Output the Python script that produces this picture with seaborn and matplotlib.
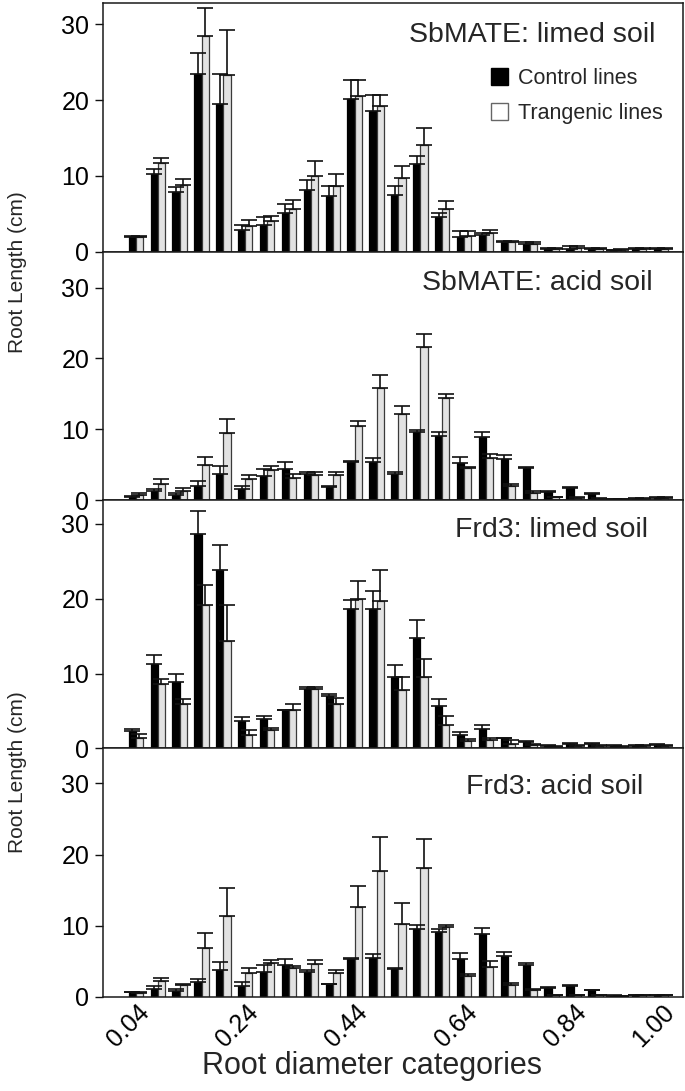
import numpy as np
import pandas as pd
import seaborn as sns
import matplotlib.pyplot as plt
import matplotlib.transforms as mtransforms
from matplotlib.patches import Patch

# Root diameter classes (mm)
diameters = ["%.2f" % (0.04 * (i + 1)) for i in range(25)]
tick_idx = [0, 5, 10, 15, 20, 24]

panel_titles = ["SbMATE: limed soil", "SbMATE: acid soil", "Frd3: limed soil", "Frd3: acid soil"]

# SbMATE, limed soil
sb_lim_ctrl = [1.9, 10.2, 7.9, 23.5, 19.5, 2.8, 3.5, 5.1, 8.1, 7.3, 20.2, 18.6, 7.5, 11.6, 4.5,
               1.9, 2.2, 1.2, 1.0, 0.35, 0.35, 0.35, 0.15, 0.3, 0.3]
sb_lim_ctrl_se = [0.1, 0.7, 0.6, 2.7, 4.0, 0.7, 1.0, 1.2, 1.3, 1.4, 2.4, 2.1, 1.15, 1.0, 0.6,
                  0.75, 0.3, 0.2, 0.2, 0.15, 0.4, 0.15, 0.1, 0.1, 0.1]
sb_lim_trans = [1.9, 11.7, 8.8, 28.4, 23.3, 3.4, 4.0, 5.6, 10.0, 8.7, 20.5, 19.2, 9.7, 14.0, 5.65,
                2.0, 2.4, 1.2, 1.0, 0.35, 0.45, 0.3, 0.2, 0.3, 0.3]
sb_lim_trans_se = [0.1, 0.7, 0.8, 3.7, 5.9, 0.8, 0.7, 1.2, 1.9, 1.5, 2.2, 1.5, 1.6, 2.3, 1.05,
                   0.65, 0.5, 0.2, 0.3, 0.15, 0.25, 0.15, 0.1, 0.1, 0.1]

# SbMATE, acid soil
sb_acid_ctrl = [0.48, 1.23, 0.69, 2.03, 3.68, 1.55, 3.42, 4.38, 3.68, 1.82, 5.34, 5.34, 3.74, 9.61, 9.08,
                5.29, 8.86, 5.77, 4.59, 1.17, 1.66, 0.85, 0.16, 0.21, 0.32]
sb_acid_ctrl_se = [0.05, 0.32, 0.27, 0.59, 1.17, 0.48, 0.96, 0.96, 0.21, 0.11, 0.11, 0.64, 0.27, 0.32, 0.48,
                   0.8, 0.8, 0.53, 0.11, 0.11, 0.11, 0.11, 0.05, 0.05, 0.05]
sb_acid_trans = [0.69, 2.24, 1.34, 4.91, 9.4, 2.99, 4.27, 3.15, 3.52, 3.52, 10.52, 15.81, 12.18, 21.68, 14.42,
                 4.49, 5.87, 1.98, 0.96, 0.37, 0.32, 0.21, 0.11, 0.21, 0.32]
sb_acid_trans_se = [0.27, 0.69, 0.32, 1.12, 2.03, 0.59, 0.53, 0.48, 0.48, 0.48, 0.69, 1.87, 1.12, 1.71, 0.53,
                    0.16, 0.59, 0.27, 0.32, 0.11, 0.11, 0.05, 0.05, 0.05, 0.05]

# Frd3, limed soil
frd_lim_ctrl = [2.35, 11.25, 8.9, 28.6, 23.8, 3.65, 3.9, 5.1, 7.95, 7.05, 18.6, 18.7, 9.5, 14.8, 5.65,
                1.8, 2.65, 1.4, 0.9, 0.35, 0.55, 0.55, 0.3, 0.3, 0.45]
frd_lim_ctrl_se = [0.2, 1.25, 1.05, 3.1, 3.4, 0.55, 0.4, 0.05, 0.2, 0.25, 1.3, 2.4, 1.7, 2.4, 0.95,
                   0.4, 0.45, 0.05, 0.05, 0.1, 0.2, 0.15, 0.1, 0.1, 0.1]
frd_lim_trans = [1.45, 8.6, 5.9, 19.2, 14.35, 1.75, 2.5, 5.15, 7.95, 5.9, 20.0, 19.7, 7.8, 9.5, 3.1,
                 0.95, 1.1, 0.65, 0.45, 0.2, 0.3, 0.3, 0.2, 0.3, 0.3]
frd_lim_trans_se = [0.45, 0.7, 0.7, 2.6, 4.85, 0.75, 0.25, 0.8, 0.2, 0.8, 2.4, 4.2, 1.8, 2.4, 1.2,
                    0.3, 0.3, 0.45, 0.2, 0.1, 0.1, 0.1, 0.1, 0.1, 0.1]

# Frd3, acid soil
frd_acid_ctrl = [0.69, 1.17, 0.85, 2.14, 3.74, 1.55, 3.52, 4.49, 3.52, 1.82, 5.39, 5.45, 3.9, 9.56, 9.18,
                 5.34, 8.86, 5.82, 4.54, 1.28, 1.55, 0.91, 0.16, 0.21, 0.21]
frd_acid_ctrl_se = [0.05, 0.37, 0.21, 0.43, 1.23, 0.59, 0.96, 0.91, 0.32, 0.05, 0.05, 0.64, 0.16, 0.48, 0.37,
                    0.8, 0.8, 0.48, 0.16, 0.05, 0.16, 0.11, 0.05, 0.05, 0.05]
frd_acid_trans = [0.59, 2.24, 1.71, 6.84, 11.37, 3.36, 4.81, 4.06, 4.65, 3.36, 12.66, 17.73, 10.25, 18.05, 9.83,
                  2.88, 4.17, 1.66, 1.01, 0.27, 0.27, 0.21, 0.11, 0.21, 0.21]
frd_acid_trans_se = [0.11, 0.43, 0.11, 2.14, 4.0, 0.69, 0.43, 0.27, 0.59, 0.48, 2.99, 4.7, 2.88, 4.17, 0.32,
                     0.37, 0.85, 0.37, 0.05, 0.05, 0.05, 0.05, 0.05, 0.05, 0.05]

panels = [
    (sb_lim_ctrl, sb_lim_ctrl_se, sb_lim_trans, sb_lim_trans_se),
    (sb_acid_ctrl, sb_acid_ctrl_se, sb_acid_trans, sb_acid_trans_se),
    (frd_lim_ctrl, frd_lim_ctrl_se, frd_lim_trans, frd_lim_trans_se),
    (frd_acid_ctrl, frd_acid_ctrl_se, frd_acid_trans, frd_acid_trans_se),
]

# acid-soil panels were drawn on a slightly taller y range
y_top = [32.8, 35.1, 33.2, 34.9]

# title placement (axes fraction, right aligned)
title_pos = [(0.952, 0.872), (0.947, 0.875), (0.94, 0.88), (0.931, 0.843)]

sns.set_style("ticks")
plt.rcParams["font.family"] = ["Liberation Sans", "DejaVu Sans"]

colors = {"Control lines": "black", "Trangenic lines": "#e2e2e2"}
edges = {"Control lines": "black", "Trangenic lines": "#3a3a3a"}

fig, axes = plt.subplots(4, 1, figsize=(6.85, 10.91), dpi=100, sharex=True)
fig.subplots_adjust(left=0.1504, right=0.997, top=0.9972, bottom=0.0862, hspace=0)

for k, ax in enumerate(axes):
    ctrl, ctrl_se, trans, trans_se = panels[k]
    df = pd.DataFrame({
        "diameter": diameters * 2,
        "line": ["Control lines"] * 25 + ["Trangenic lines"] * 25,
        "length": ctrl + trans,
    })
    sns.barplot(data=df, x="diameter", y="length", hue="line", order=diameters,
                hue_order=["Control lines", "Trangenic lines"], palette=colors,
                width=0.66, errorbar=None, legend=False, ax=ax, zorder=2)

    for cont, se, lvl in zip(ax.containers, [ctrl_se, trans_se], colors):
        for bar in cont:
            bar.set_edgecolor(edges[lvl])
            bar.set_linewidth(0.9)
        xs = [b.get_x() + b.get_width() / 2 for b in cont]
        hs = [b.get_height() for b in cont]
        ax.errorbar(xs, hs, yerr=[np.zeros(len(se)), se], fmt="none", ecolor="#111111",
                    elinewidth=1.2, capsize=5.5, capthick=1.2, zorder=3)

    ax.set_xlim(-1.5, 25.0)
    ax.set_ylim(0, y_top[k])
    ax.set_yticks([0, 10, 20, 30])
    ax.tick_params(axis="y", labelsize=18, length=6, width=1, direction="out", pad=4,
                   colors="#111111", labelcolor="black")
    ax.tick_params(axis="x", length=0, labelsize=18, pad=2, labelcolor="black")
    ax.set_xlabel("")
    ax.set_ylabel("")
    for s in ax.spines.values():
        s.set_visible(True)
        s.set_linewidth(1.1)
        s.set_color("#1a1a1a")
    tx, ty = title_pos[k]
    ax.text(tx, ty, panel_titles[k], transform=ax.transAxes, ha="right", va="center", fontsize=20.5)

axes[-1].set_xticks(tick_idx)
axes[-1].set_xticklabels([diameters[i] for i in tick_idx], rotation=45, ha="center")
shift = mtransforms.ScaledTranslation(-8 / 100, 0, fig.dpi_scale_trans)
for lab in axes[-1].get_xticklabels():
    lab.set_transform(lab.get_transform() + shift)

handles = [Patch(facecolor="black", edgecolor="black", label="Control lines"),
           Patch(facecolor="white", edgecolor="#666666", label="Trangenic lines")]
axes[0].legend(handles=handles, loc="upper left", bbox_to_anchor=(0.643, 0.8), frameon=False,
               fontsize=15.5, handlelength=0.8, handleheight=0.8, handletextpad=0.45,
               labelspacing=0.65, borderpad=0.2)

fig.text(0.025, 1 - 272 / 1091, "Root Length (cm)", rotation=90, ha="center", va="center", fontsize=15)
fig.text(0.025, 1 - 772 / 1091, "Root Length (cm)", rotation=90, ha="center", va="center", fontsize=15)
fig.text(372 / 685, 1 - 1066 / 1091, "Root diameter categories", ha="center", va="center", fontsize=22)

fig.savefig("out.png", dpi=100)
